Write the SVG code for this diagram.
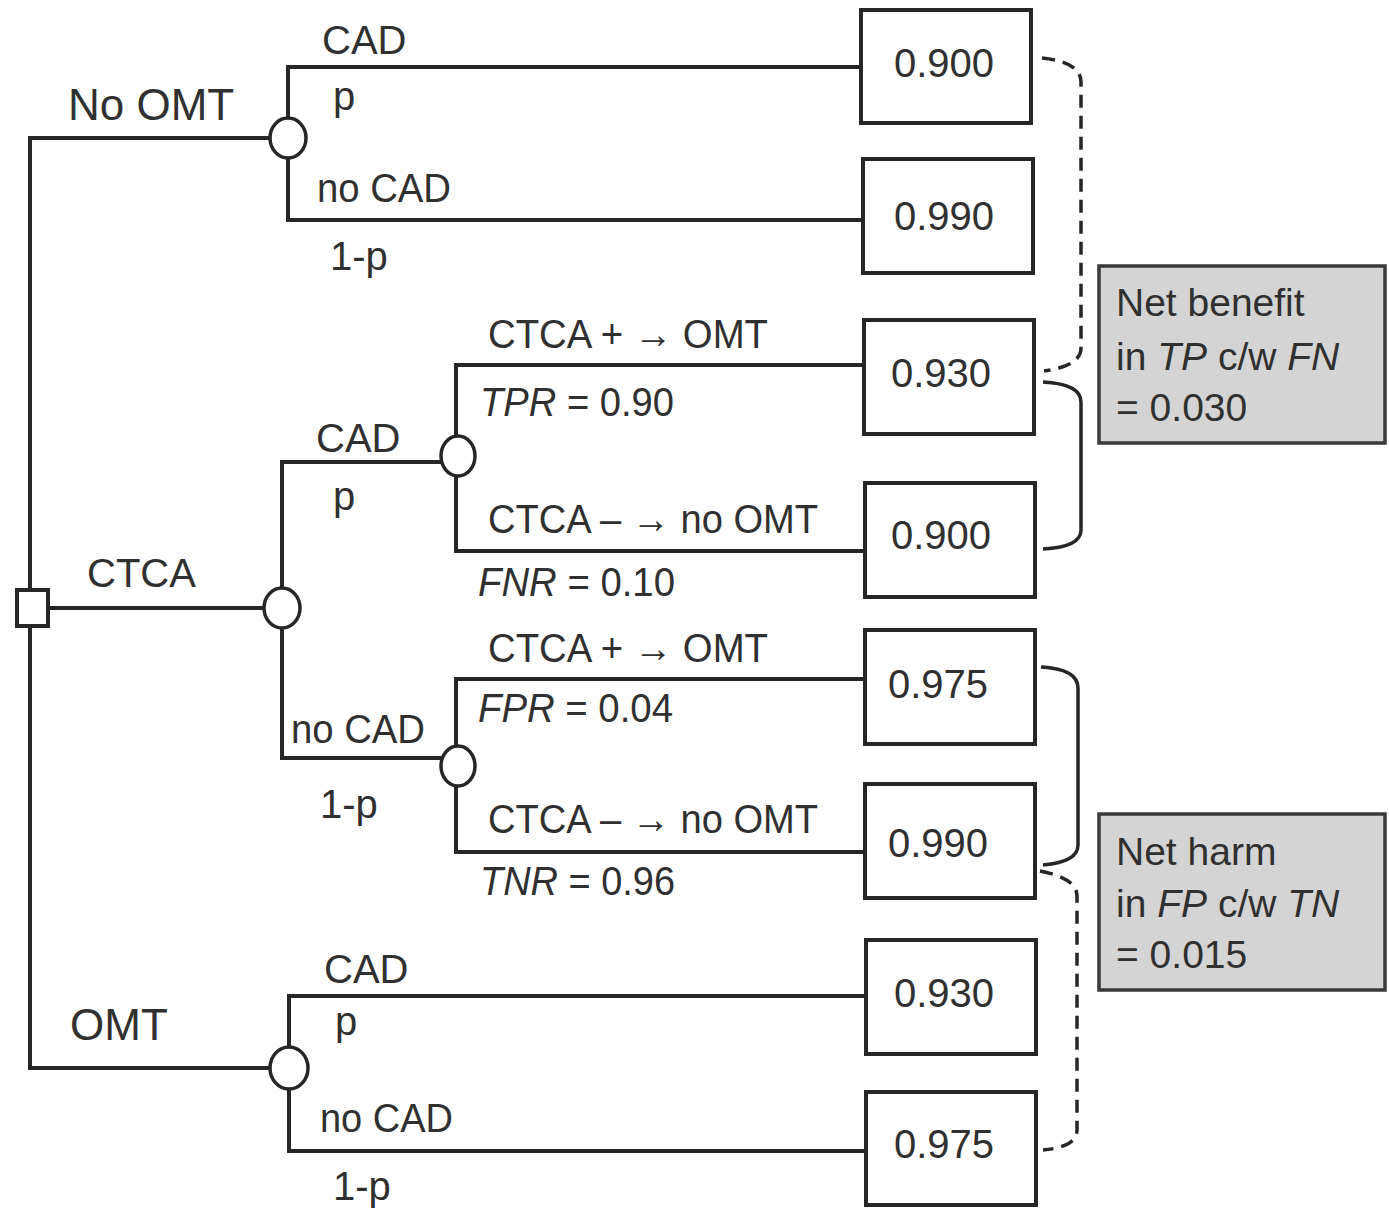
<svg xmlns="http://www.w3.org/2000/svg" width="1389" height="1208" viewBox="0 0 1389 1208">
<style>
  .ln { fill: none; stroke: #262626; stroke-width: 4; stroke-linecap: square; }
  .br { fill: none; stroke: #262626; stroke-width: 3.5; }
  .dash { stroke-dasharray: 13 8; }
  .box { fill: #ffffff; stroke: #262626; stroke-width: 4; }
  .note { fill: #d4d4d4; stroke: #3a3a3a; stroke-width: 3.5; }
  .chance { fill: #ffffff; stroke: #262626; stroke-width: 3.5; }
  .t { font-family: "Liberation Sans", Arial, sans-serif; font-size: 40px; fill: #303030; }
  .big { font-size: 44px; }
  .val { font-size: 40px; text-anchor: middle; }
  .nt { font-size: 39px; }
  .i { font-style: italic; }
</style>
<rect width="1389" height="1208" fill="#ffffff"/>

<g id="connectors">
  <path class="ln" d="M30,138 V1068"/>
  <!-- No OMT -->
  <path class="ln" d="M30,138 H288"/>
  <path class="ln" d="M288,67 V220"/>
  <path class="ln" d="M288,67 H862"/>
  <path class="ln" d="M288,220 H863"/>
  <!-- CTCA -->
  <path class="ln" d="M48,608 H282"/>
  <path class="ln" d="M282,608 V462 H456"/>
  <path class="ln" d="M456,365 V551"/>
  <path class="ln" d="M456,365 H864"/>
  <path class="ln" d="M456,551 H865"/>
  <path class="ln" d="M282,608 V758 H456"/>
  <path class="ln" d="M456,679 V852"/>
  <path class="ln" d="M456,679 H865"/>
  <path class="ln" d="M456,852 H865"/>
  <!-- OMT -->
  <path class="ln" d="M30,1068 H289"/>
  <path class="ln" d="M289,996 V1151"/>
  <path class="ln" d="M289,996 H866"/>
  <path class="ln" d="M289,1151 H866"/>
  <!-- brackets -->
  <path class="br dash" d="M1042,58 Q1081,62 1081,82 V348 Q1081,366 1044,371"/>
  <path class="br" d="M1043,382 Q1081,384 1081,402 V530 Q1081,547 1043,549"/>
  <path class="br" d="M1041,667 Q1078,669 1078,688 V845 Q1078,862 1043,865"/>
  <path class="br dash" d="M1040,871 Q1077,878 1077,896 V1130 Q1077,1147 1043,1150"/>
</g>

<g id="decision">
  <rect x="17" y="590" width="31" height="36" class="box" stroke-width="3.5"/>
</g>

<g id="chance-nomt"><ellipse cx="288" cy="138" rx="18" ry="20" class="chance"/></g>
<g id="chance-ctca"><ellipse cx="282" cy="608" rx="18" ry="20" class="chance"/></g>
<g id="chance-ctca-cad"><ellipse cx="458" cy="456" rx="17" ry="20" class="chance"/></g>
<g id="chance-ctca-nocad"><ellipse cx="458" cy="766" rx="17" ry="20" class="chance"/></g>
<g id="chance-omt"><ellipse cx="289" cy="1068" rx="19" ry="21" class="chance"/></g>

<g id="out1"><rect x="861" y="10" width="170" height="113" class="box"/><text x="944" y="77" class="t val">0.900</text></g>
<g id="out2"><rect x="863" y="159" width="170" height="114" class="box"/><text x="944" y="230" class="t val">0.990</text></g>
<g id="out3"><rect x="864" y="320" width="170" height="114" class="box"/><text x="941" y="387" class="t val">0.930</text></g>
<g id="out4"><rect x="865" y="483" width="170" height="114" class="box"/><text x="941" y="549" class="t val">0.900</text></g>
<g id="out5"><rect x="865" y="630" width="170" height="114" class="box"/><text x="938" y="698" class="t val">0.975</text></g>
<g id="out6"><rect x="865" y="784" width="170" height="114" class="box"/><text x="938" y="857" class="t val">0.990</text></g>
<g id="out7"><rect x="866" y="940" width="170" height="114" class="box"/><text x="944" y="1007" class="t val">0.930</text></g>
<g id="out8"><rect x="866" y="1092" width="170" height="113" class="box"/><text x="944" y="1158" class="t val">0.975</text></g>

<g id="note-benefit">
  <rect x="1099" y="266" width="286" height="177" class="note"/>
  <text x="1116" y="316" class="t nt">Net benefit</text>
  <text x="1116" y="370" class="t nt">in <tspan class="i">TP</tspan> c/w <tspan class="i">FN</tspan></text>
  <text x="1116" y="421" class="t nt">= 0.030</text>
</g>
<g id="note-harm">
  <rect x="1099" y="814" width="286" height="176" class="note"/>
  <text x="1116" y="865" class="t nt">Net harm</text>
  <text x="1116" y="917" class="t nt">in <tspan class="i">FP</tspan> c/w <tspan class="i">TN</tspan></text>
  <text x="1116" y="968" class="t nt">= 0.015</text>
</g>

<g id="labels">
  <text x="68" y="120" class="t big">No OMT</text>
  <text x="322" y="54" class="t">CAD</text>
  <text x="333" y="110" class="t">p</text>
  <text x="317" y="202" class="t" textLength="134" lengthAdjust="spacingAndGlyphs">no CAD</text>
  <text x="330" y="270" class="t">1-p</text>

  <text x="87" y="587" class="t" font-size="42">CTCA</text>
  <text x="316" y="452" class="t">CAD</text>
  <text x="333" y="510" class="t">p</text>
  <text x="488" y="348" class="t" textLength="280" lengthAdjust="spacingAndGlyphs">CTCA + → OMT</text>
  <text x="480" y="416" class="t" textLength="194" lengthAdjust="spacingAndGlyphs"><tspan class="i">TPR</tspan> = 0.90</text>
  <text x="488" y="533" class="t" textLength="330" lengthAdjust="spacingAndGlyphs">CTCA – → no OMT</text>
  <text x="478" y="596" class="t" textLength="197" lengthAdjust="spacingAndGlyphs"><tspan class="i">FNR</tspan> = 0.10</text>

  <text x="291" y="743" class="t" textLength="134" lengthAdjust="spacingAndGlyphs">no CAD</text>
  <text x="320" y="818" class="t">1-p</text>
  <text x="488" y="662" class="t" textLength="280" lengthAdjust="spacingAndGlyphs">CTCA + → OMT</text>
  <text x="478" y="722" class="t" textLength="195" lengthAdjust="spacingAndGlyphs"><tspan class="i">FPR</tspan> = 0.04</text>
  <text x="488" y="833" class="t" textLength="330" lengthAdjust="spacingAndGlyphs">CTCA – → no OMT</text>
  <text x="480" y="895" class="t" textLength="195" lengthAdjust="spacingAndGlyphs"><tspan class="i">TNR</tspan> = 0.96</text>

  <text x="70" y="1040" class="t big">OMT</text>
  <text x="324" y="983" class="t">CAD</text>
  <text x="335" y="1035" class="t">p</text>
  <text x="320" y="1132" class="t" textLength="133" lengthAdjust="spacingAndGlyphs">no CAD</text>
  <text x="333" y="1200" class="t">1-p</text>
</g>
</svg>
